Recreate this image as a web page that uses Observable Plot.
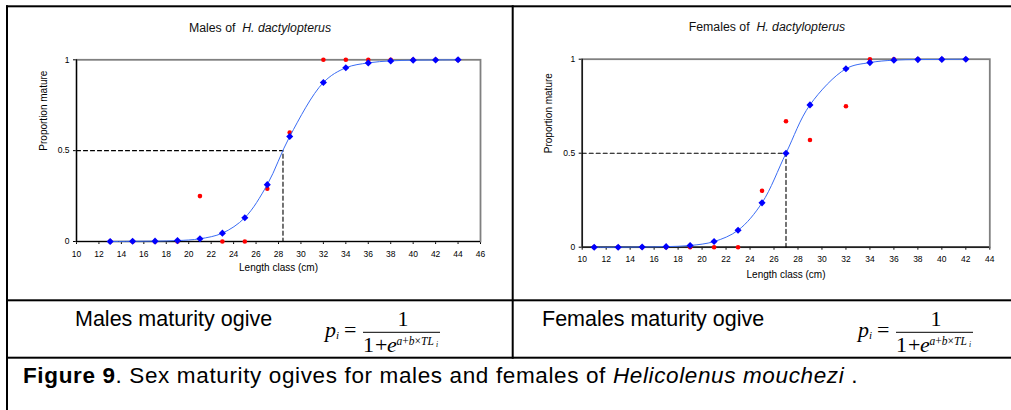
<!DOCTYPE html>
<html><head><meta charset="utf-8">
<script src="https://cdn.jsdelivr.net/npm/d3@7"></script>
<script src="https://cdn.jsdelivr.net/npm/@observablehq/plot@0.6"></script>
<style>
html,body{margin:0;padding:0;background:#fff;}
#root{position:relative;width:1011px;height:410px;overflow:hidden;font-family:"Liberation Sans",Arial,sans-serif;color:#000;}
.chart{position:absolute;top:0;}
.title{position:absolute;font-size:12.3px;white-space:nowrap;transform:translate(-50%,-50%);color:#111;}
.rowtext{position:absolute;font-size:21.5px;white-space:nowrap;line-height:1;}
#caption{position:absolute;left:23px;top:365px;font-size:22.5px;white-space:nowrap;line-height:1;}
#overlay{position:absolute;left:0;top:0;pointer-events:none;}
</style></head>
<body><div id="root">
<div id="maleChart" class="chart" style="left:0px"></div>
<div id="femaleChart" class="chart" style="left:512px"></div>
<div class="title" style="left:260px;top:28px">Males of&nbsp; <i>H. dactylopterus</i></div>
<div class="title" style="left:767px;top:27px">Females of&nbsp; <i>H. dactylopterus</i></div>
<div class="rowtext" style="left:75px;top:309px">Males maturity ogive</div>
<div class="rowtext" style="left:542px;top:309px">Females maturity ogive</div>
<div id="caption"><b>Figure 9</b>. Sex maturity ogives for males and females of <i>Helicolenus mouchezi</i> .</div>
<svg id="overlay" width="1011" height="410"></svg>
</div>
<script>
// ---- data ----
const maleLength   = [13, 15, 17, 19, 21, 23, 25, 27, 29, 32, 34, 36, 38, 40, 42, 44];
const maleObserved = [0, 0, 0, 0, 0.25, 0, 0, 0.29, 0.60, 1, 1, 1, 1, 1, 1, 1];
const maleFitted   = [0.000, 0.001, 0.002, 0.005, 0.015, 0.046, 0.131, 0.313, 0.578, 0.875, 0.956, 0.983, 0.994, 0.998, 0.999, 1.000];
const maleL50 = 28.4;

const femaleLength   = [11, 13, 15, 17, 19, 21, 23, 25, 27, 29, 32, 34, 36, 38, 40, 42];
const femaleObserved = [0, 0, 0, 0, 0, 0, 0, 0.30, 0.67, 0.57, 0.75, 1, 1, 1, 1, 1];
const femaleFitted   = [0.000, 0.000, 0.001, 0.003, 0.009, 0.030, 0.090, 0.236, 0.500, 0.757, 0.949, 0.982, 0.995, 0.998, 0.999, 1.000];
const femaleL50 = 27.0;

const yTicks = [0, 0.5, 1];
const xLabel = "Length class (cm)";
const yLabel = "Proportion mature";

function chart(o) {
  const data = o.lengths.map((x, i) => ({x, obs: o.observed[i], fit: o.fitted[i]}));
  const dash = [{x: 10, y: 0.5}, {x: o.l50, y: 0.5}, {x: o.l50, y: 0}];
  return Plot.plot({
    width: o.width, height: o.height,
    marginLeft: o.ml, marginRight: o.mr, marginTop: o.mt, marginBottom: o.mb,
    style: {fontFamily: "'Liberation Sans', Arial, sans-serif", fontSize: "8.5px", color: "#000", background: "transparent", overflow: "visible"},
    x: {domain: [10, o.xmax], ticks: d3.range(10, o.xmax + 1, 2), tickSize: 3, tickPadding: 6, label: null, tickFormat: d => String(d)},
    y: {domain: [0, 1], ticks: yTicks, tickSize: 3, tickPadding: 4, label: null, tickFormat: d => String(d)},
    marks: [
      Plot.frame({stroke: "#808080", strokeWidth: 1.8}),
      Plot.ruleY([0], {stroke: "#000", strokeWidth: 1.2}),
      Plot.ruleX([10], {stroke: "#000", strokeWidth: 1.2}),
      Plot.line(dash, {x: "x", y: "y", stroke: "#000", strokeWidth: 1.1, strokeDasharray: "4,3"}),
      Plot.dot(data, {x: "x", y: "obs", fill: "#ff0000", r: 2.3}),
      Plot.line(data, {x: "x", y: "fit", stroke: "#3a6cf4", strokeWidth: 1, curve: "catmull-rom"}),
      Plot.dot(data, {x: "x", y: "fit", fill: "#0000ff", symbol: "diamond2", r: 3.2}),
      Plot.text([xLabel], {frameAnchor: "bottom", dy: o.xdy, fontSize: 10, text: d => d}),
      Plot.text([yLabel], {frameAnchor: "left", dx: o.ydx, rotate: -90, fontSize: 10, text: d => d})
    ]
  });
}

document.getElementById("maleChart").append(chart({
  lengths: maleLength, observed: maleObserved, fitted: maleFitted, l50: maleL50, xmax: 46,
  width: 512, height: 300, ml: 76, mr: 32, mt: 59.3, mb: 59, xdy: 29.3, ydx: -32.7
}));
document.getElementById("femaleChart").append(chart({
  lengths: femaleLength, observed: femaleObserved, fitted: femaleFitted, l50: femaleL50, xmax: 44,
  width: 499, height: 300, ml: 69.7, mr: 21.7, mt: 58.7, mb: 53.3, xdy: 30.6, ydx: -33.7
}));

// ---- table lines and formulas ----
const svg = d3.select("#overlay");
const rects = [[6, 5.3, 1005, 2], [6, 5.3, 2, 405], [511.7, 5.3, 2, 353.4], [6, 299.3, 1005, 2], [6, 356.7, 1005, 2]];
svg.selectAll("rect").data(rects).join("rect")
  .attr("x", d => d[0]).attr("y", d => d[1]).attr("width", d => d[2]).attr("height", d => d[3]).attr("fill", "#000");

function formula(x0, y0) {
  const g = svg.append("g").attr("transform", `translate(${x0},${y0})`)
    .attr("font-family", "'Liberation Serif','Times New Roman',serif").attr("fill", "#000");
  g.append("text").attr("x", 0).attr("y", 36.5).attr("font-size", 22).attr("font-style", "italic").text("p");
  g.append("text").attr("x", 11).attr("y", 39).attr("font-size", 11).attr("font-style", "italic").text("i");
  g.append("text").attr("x", 19).attr("y", 37).attr("font-size", 22).text("=");
  g.append("text").attr("x", 78).attr("y", 25.5).attr("font-size", 22).attr("text-anchor", "middle").text("1");
  g.append("line").attr("x1", 38).attr("x2", 115).attr("y1", 32.3).attr("y2", 32.3).attr("stroke", "#000").attr("stroke-width", 1);
  g.append("text").attr("x", 38).attr("y", 51.5).attr("font-size", 22).text("1");
  g.append("text").attr("x", 50).attr("y", 51.5).attr("font-size", 22).text("+");
  g.append("text").attr("x", 62).attr("y", 51.5).attr("font-size", 22).attr("font-style", "italic").text("e");
  const ex = g.append("text").attr("x", 71.5).attr("y", 45).attr("font-size", 11.5);
  ex.append("tspan").attr("font-style", "italic").text("a");
  ex.append("tspan").text("+");
  ex.append("tspan").attr("font-style", "italic").text("b");
  ex.append("tspan").text("×");
  ex.append("tspan").attr("font-style", "italic").text("TL");
  g.append("text").attr("x", 111).attr("y", 47).attr("font-size", 7.5).attr("font-style", "italic").text("i");
}
formula(325, 300);
formula(858, 300);

// match caption width to the reference line
const cap = document.getElementById("caption");
const w = cap.getBoundingClientRect().width;
const chars = cap.textContent.length;
cap.style.letterSpacing = ((835 - w) / chars).toFixed(2) + "px";
</script>
</body></html>
